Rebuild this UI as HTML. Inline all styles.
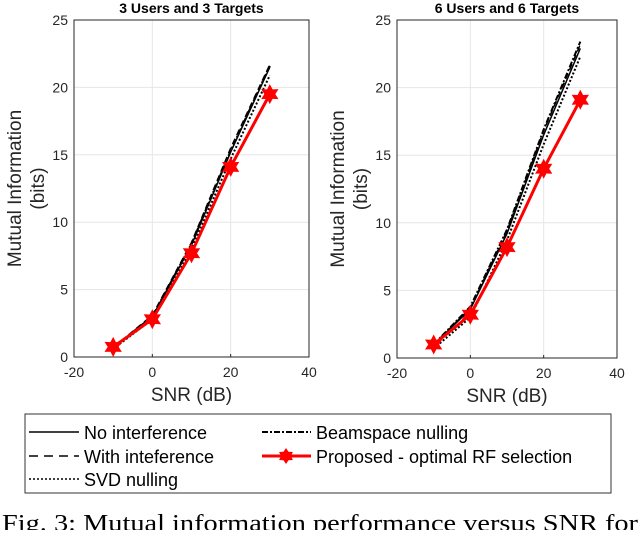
<!DOCTYPE html>
<html><head><meta charset="utf-8"><style>
body{margin:0;background:#fff;width:640px;height:530px;overflow:hidden}
svg{font-family:"Liberation Sans",sans-serif}
</style></head><body>
<svg id="chart" width="640" height="530" xmlns="http://www.w3.org/2000/svg">
<g id="plots"></g>
<g>
<rect x="25" y="414" width="586" height="79" fill="#fff" stroke="#333" stroke-width="1"/>
<g><line x1="29" y1="432" x2="79" y2="432" stroke="#000" stroke-width="1.5"/><text x="84" y="439" font-size="18" fill="#000">No interference</text></g>
<g><line x1="29" y1="456" x2="79" y2="456" stroke="#000" stroke-width="1.5" stroke-dasharray="9,6"/><text x="84" y="463" font-size="18" fill="#000">With inteference</text></g>
<g><line x1="29" y1="479" x2="79" y2="479" stroke="#000" stroke-width="1.5" stroke-dasharray="2,2"/><text x="84" y="486" font-size="18" fill="#000">SVD nulling</text></g>
<g><line x1="262" y1="432" x2="311" y2="432" stroke="#000" stroke-width="2" stroke-dasharray="6,2,2,2"/><text x="316" y="439" font-size="18" fill="#000">Beamspace nulling</text></g>
<g><line x1="262" y1="456" x2="311" y2="456" stroke="#f00" stroke-width="3"/><polygon points="286,448 288.5,451.7 292.9,452 291,456 292.9,460 288.5,460.3 286,464 283.5,460.3 279.1,460 281,456 279.1,452 283.5,451.7" fill="#f00"/><text x="316" y="463" font-size="18" fill="#000">Proposed - optimal RF selection</text></g>
</g>
<text x="2" y="531" font-family="Liberation Serif, serif" font-size="24" fill="#000" textLength="636" lengthAdjust="spacingAndGlyphs">Fig. 3: Mutual information performance versus SNR for</text>
</svg>
<script>
const snr = [-10, 0, 10, 20, 30];
const xTicks = [-20, 0, 20, 40];
const yTicks = [0, 5, 10, 15, 20, 25];
const leftNoInterference = [0.7, 3.0, 8.3, 15.2, 21.5];
const leftWithInterference = [0.7, 3.1, 8.5, 15.5, 21.7];
const leftSvd = [0.6, 2.8, 8.0, 14.7, 20.9];
const leftBeamspace = [0.7, 3.0, 8.4, 15.3, 21.6];
const leftProposed = [0.75, 2.8, 7.7, 14.1, 19.5];
const rightNoInterference = [1.0, 3.6, 9.2, 16.5, 22.9];
const rightWithInterference = [1.0, 3.7, 9.4, 16.8, 23.2];
const rightSvd = [0.7, 3.0, 8.7, 15.8, 22.3];
const rightBeamspace = [1.0, 3.8, 9.5, 16.9, 23.4];
const rightProposed = [1.0, 3.2, 8.2, 14.0, 19.1];

const NS = "http://www.w3.org/2000/svg";
const root = document.getElementById('plots');
function mk(tag, attrs, parent) {
  const e = document.createElementNS(NS, tag);
  for (const k in attrs) e.setAttribute(k, attrs[k]);
  parent.appendChild(e);
  return e;
}
function starPts(cx, cy, ro, ri) {
  const p = [];
  for (let k = 0; k < 12; k++) {
    const a = -Math.PI / 2 + k * Math.PI / 6;
    const r = k % 2 ? ri : ro;
    p.push((cx + r * Math.cos(a)).toFixed(1) + ',' + (cy + r * Math.sin(a)).toFixed(1));
  }
  return p.join(' ');
}
function drawPlot(id, x0, x1, y0, y1, title, series) {
  const g = mk('g', {}, root);
  
  
  const sx = v => x0 + (v - (-20)) / 60 * (x1 - x0);
  const sy = v => y1 - v / 25 * (y1 - y0);
  mk('rect', {x: x0, y: y0, width: x1 - x0, height: y1 - y0, fill: '#fff'}, g);
  xTicks.forEach(t => {
    const l = mk('line', {x1: sx(t), x2: sx(t), y1: y0, y2: y1, stroke: '#e6e6e6', 'stroke-width': 1}, g);
    
    
    const tx = mk('text', {x: sx(t), y: y1 + 20, 'font-size': 14, fill: '#262626', 'text-anchor': 'middle'}, g);
    tx.textContent = t;
    
    
    mk('line', {x1: sx(t), x2: sx(t), y1: y1, y2: y1 - 3, stroke: '#262626'}, g);
  });
  yTicks.forEach(t => {
    const l = mk('line', {x1: x0, x2: x1, y1: sy(t), y2: sy(t), stroke: '#e6e6e6', 'stroke-width': 1}, g);
    
    
    const tx = mk('text', {x: x0 - 6, y: sy(t) + 5, 'font-size': 14, fill: '#262626', 'text-anchor': 'end'}, g);
    tx.textContent = t;
    
    
  });
  mk('rect', {x: x0, y: y0, width: x1 - x0, height: y1 - y0, fill: 'none', stroke: '#262626', 'stroke-width': 1}, g);
  const tt = mk('text', {x: (x0 + x1) / 2, y: 13, 'font-size': 14, 'font-weight': 'bold', 'text-anchor': 'middle', fill: '#000'}, g);
  tt.textContent = title;
  
  
  const xl = mk('text', {x: (x0 + x1) / 2, y: y1 + 44, 'font-size': 19, 'text-anchor': 'middle', fill: '#262626'}, g);
  xl.textContent = 'SNR (dB)';
  
  
  const cy = (y0 + y1) / 2;
  const yl = mk('text', {x: 0, y: 0, 'font-size': 19, 'text-anchor': 'middle', fill: '#262626', transform: `translate(${x0 - 53},${cy}) rotate(-90)`}, g);
  yl.textContent = 'Mutual Information';
  
  
  const yl2 = mk('text', {x: 0, y: 0, 'font-size': 19, 'text-anchor': 'middle', fill: '#262626', transform: `translate(${x0 - 30},${cy}) rotate(-90)`}, g);
  yl2.textContent = '(bits)';
  
  
  series.forEach(s => {
    const pts = snr.map((v, i) => sx(v) + ',' + sy(s.vals[i])).join(' ');
    const p = mk('polyline', {points: pts, fill: 'none', stroke: s.color, 'stroke-width': s.w, 'stroke-dasharray': s.dash}, g);
    
    
    if (s.marker) {
      snr.forEach((v, i) => {
        const m = mk('polygon', {points: starPts(sx(v), sy(s.vals[i]), 10, 5.5), fill: '#f00'}, g);
        
        
      });
    }
  });
}
function seriesSet(a, b, c, d, e) {
  return [
    {name: 'line-no-interference', vals: a, color: '#000', w: 1.5, dash: 'none'},
    {name: 'line-with-interference', vals: b, color: '#000', w: 1.5, dash: '6,4'},
    {name: 'line-svd-nulling', vals: c, color: '#000', w: 2, dash: '2,2'},
    {name: 'line-beamspace-nulling', vals: d, color: '#000', w: 2, dash: '6,2,2,2'},
    {name: 'line-proposed', vals: e, color: '#f00', w: 3, dash: 'none', marker: true}
  ];
}
drawPlot('plot-3-users', 74, 309, 20, 357, '3 Users and 3 Targets', seriesSet(leftNoInterference, leftWithInterference, leftSvd, leftBeamspace, leftProposed));
drawPlot('plot-6-users', 397, 617, 20, 358, '6 Users and 6 Targets', seriesSet(rightNoInterference, rightWithInterference, rightSvd, rightBeamspace, rightProposed));
</script>
</body></html>
